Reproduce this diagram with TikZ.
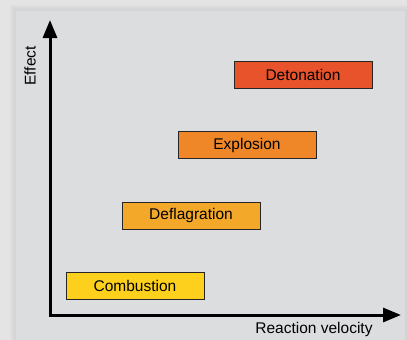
\documentclass[tikz,border=0pt]{standalone}
\usepackage{fontspec}
\setmainfont{Liberation Sans}
\usetikzlibrary{arrows.meta}
\definecolor{outerbg}{HTML}{E4E4E5}
\definecolor{panelbg}{HTML}{DCDDDF}
\definecolor{shadowc}{HTML}{CBCBCD}
\definecolor{detcol}{HTML}{E8532B}
\definecolor{expcol}{HTML}{EF8628}
\definecolor{defcol}{HTML}{F4A82A}
\definecolor{comcol}{HTML}{FCD01C}
\tikzset{
    phase/.style={draw=black!85, line width=0.8pt, minimum width=138pt, minimum height=27pt,
        inner sep=0pt, font=\fontsize{15.5}{18}\selectfont},
    axislabel/.style={font=\fontsize{15.5}{18}\selectfont, inner sep=0pt}
}
\begin{document}
\begin{tikzpicture}[x=1pt, y=-1pt, >={Triangle[length=18pt, width=14pt]}]
        % Background and panel
        \fill[outerbg] (0,0) rectangle (407,340);
        \useasboundingbox (0,0) rectangle (407,340);
        \foreach \s in {6,5,4,3,2,1} {
            \fill[shadowc, opacity=0.12] (16-\s,11-\s) rectangle (407,340);
        }
        \fill[panelbg] (16,11) rectangle (405,340);

        % Axes
        \coordinate (o) at (50,315);
        \coordinate (ytip) at (50,20);
        \coordinate (xtip) at (401,315);
        \draw[line width=3pt, ->] (o) -- (ytip);
        \draw[line width=3pt, ->] ([xshift=-1.5pt]o) -- (xtip);
        \node[axislabel, rotate=90] (effect) at (30,66) {Effect};
        \node[axislabel] (velocity) at (314,329) {Reaction velocity};

        % Phases
        \node[phase, fill=comcol] (combustion) at (135,285.5) {Combustion};
        \node[phase, fill=defcol] (deflagration) at (191,215.5) {Deflagration};
        \node[phase, fill=expcol] (explosion) at (247,145) {Explosion};
        \node[phase, fill=detcol] (detonation) at (303,74.5) {Detonation};
    \end{tikzpicture}
\end{document}
